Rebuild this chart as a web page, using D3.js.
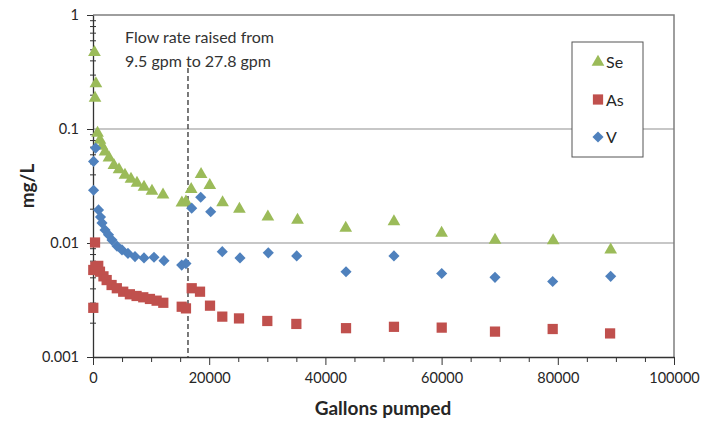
<!DOCTYPE html>
<html>
<head>
<meta charset="utf-8">
<script src="https://cdn.jsdelivr.net/npm/d3@7/dist/d3.min.js"></script>
<style>
  html, body { margin: 0; padding: 0; background: #fff; }
  svg text { font-family: "Lato", "Noto Sans", sans-serif; fill: #262626; }
</style>
</head>
<body>
<svg id="chart" width="703" height="423"></svg>
<script>
// Se / As / V concentrations (mg/L) vs gallons pumped
const seGallons = [250, 500, 350, 780, 1200, 1550, 2070, 2750, 3600, 4480, 5500, 6540, 7570, 8780, 10150, 12050,
  15300, 16000, 16900, 18600, 20100, 22300, 25200, 30100, 35200, 43500, 51800, 60000, 69200, 79200, 89100];
const seValues = [0.47, 0.25, 0.187, 0.092, 0.080, 0.071, 0.063, 0.056, 0.048, 0.044, 0.0395, 0.0364, 0.0336, 0.031, 0.0286, 0.0264,
  0.0225, 0.023, 0.0296, 0.040, 0.032, 0.0226, 0.0198, 0.017, 0.0159, 0.0135, 0.0154, 0.0122, 0.0106, 0.0105, 0.0087];

const asGallons = [50, 350, 50, 400, 900, 1200, 1800, 2350, 3200, 4100, 5200, 6350, 7500, 8650, 9800, 10950, 12100,
  15270, 16000, 16990, 18420, 20140, 22250, 25130, 30000, 35000, 43550, 51800, 60020, 69190, 79120, 89000];
const asValues = [0.0027, 0.0101, 0.0058, 0.0062, 0.0063, 0.0056, 0.0051, 0.00473, 0.00428, 0.00401, 0.00374, 0.00355, 0.00343, 0.00334, 0.00323, 0.00312, 0.00299,
  0.00276, 0.00267, 0.00401, 0.00374, 0.00282, 0.00226, 0.00218, 0.00207, 0.00195, 0.00179, 0.00184, 0.00181, 0.00167, 0.00176, 0.00161];

const vGallons = [100, 100, 450, 950, 1290, 1550, 2070, 2670, 3270, 4130, 4990, 6020, 7230, 8780, 10500, 12220,
  15270, 16000, 16990, 18540, 20260, 22250, 25300, 30170, 35060, 43550, 51800, 60020, 69190, 79120, 89100];
const vValues = [0.029, 0.052, 0.068, 0.0195, 0.0169, 0.015, 0.013, 0.0118, 0.0106, 0.0094, 0.0087, 0.0081, 0.0076, 0.0074, 0.0075, 0.0070,
  0.0064, 0.0066, 0.0202, 0.0252, 0.0188, 0.0084, 0.0074, 0.0082, 0.0077, 0.0056, 0.0077, 0.0054, 0.0050, 0.0046, 0.0051];

const xTicks = [0, 20000, 40000, 60000, 80000, 100000];
const yTicks = [0.001, 0.01, 0.1, 1];
const yTickLabels = ["0.001", "0.01", "0.1", "1"];
const flowChangeGallons = 16350;
const noteLines = ["Flow rate raised from", "9.5 gpm to 27.8 gpm"];

const SERIES = [
  { name: "Se", xs: seGallons, ys: seValues, color: "#9BBB59", shape: "tri" },
  { name: "As", xs: asGallons, ys: asValues, color: "#C0504D", shape: "sq" },
  { name: "V",  xs: vGallons,  ys: vValues,  color: "#4F81BD", shape: "dia" }
];

function markerPath(shape){
  if (shape === "tri") return d3.symbol(d3.symbolTriangle, 70)();
  if (shape === "sq") return d3.symbol(d3.symbolSquare, 105)();
  return d3.symbol(d3.symbolSquare, 62)();
}

function renderChart(){
  const svg = d3.select("#chart");
  const margin = { top: 15, right: 29, bottom: 66, left: 93 };
  const W = 703, H = 423;

  const x = d3.scaleLinear()
    .domain([0, 100000])
    .range([margin.left, W - margin.right]);

  const y = d3.scaleLog()
    .domain([0.001, 1])
    .range([H - margin.bottom, margin.top]);

  // gridlines
  svg.append("g")
    .selectAll("line")
    .data([0.01, 0.1])
    .enter().append("line")
    .attr("x1", x(0)).attr("x2", x(100000))
    .attr("y1", d => y(d)).attr("y2", d => y(d))
    .attr("stroke", "#b4b4b4")
    .attr("stroke-width", 1.5);

  // plot border (top / right)
  svg.append("path")
    .attr("d", `M${x(0)},${y(1)}H${x(100000)}V${y(0.001)}`)
    .attr("fill", "none")
    .attr("stroke", "#7f7f7f")
    .attr("stroke-width", 1.5);

  // flow change marker
  svg.append("line")
    .attr("x1", x(flowChangeGallons)).attr("x2", x(flowChangeGallons))
    .attr("y1", 68).attr("y2", y(0.001))
    .attr("stroke", "#222")
    .attr("stroke-width", 1.2)
    .attr("stroke-dasharray", "5,3");

  svg.append("g")
    .selectAll("text")
    .data(noteLines)
    .enter().append("text")
    .attr("x", 125)
    .attr("y", (d, i) => 42.5 + i * 24)
    .attr("font-size", 16)
    .style("fill", "#333")
    .text(d => d);

  // x axis
  const xMinor = d3.range(0, 100001, 5000).filter(v => !xTicks.includes(v));
  svg.append("g")
    .attr("transform", `translate(0,${y(0.001)})`)
    .call(d3.axisBottom(x).tickValues(xMinor).tickSize(5).tickFormat(""))
    .call(g => g.select(".domain").remove())
    .selectAll("line").attr("stroke", "#333");

  const gx = svg.append("g")
    .attr("transform", `translate(0,${y(0.001)})`)
    .call(d3.axisBottom(x).tickValues(xTicks).tickSize(8).tickSizeOuter(0).tickFormat(d => String(d)).tickPadding(8));
  gx.select(".domain").attr("stroke", "#333").attr("stroke-width", 1.3);
  gx.selectAll("line").attr("stroke", "#333");
  gx.selectAll("text").attr("font-size", 14.5).attr("font-family", null);

  // y axis
  const yMinor = y.ticks().filter(v => !yTicks.some(t => Math.abs(t - v) < 1e-9));
  svg.append("g")
    .attr("transform", `translate(${x(0) + 3},0)`)
    .call(d3.axisLeft(y).tickValues(yMinor).tickSize(6).tickFormat(""))
    .call(g => g.select(".domain").remove())
    .selectAll("line").attr("stroke", "#333");

  const gy = svg.append("g")
    .attr("transform", `translate(${x(0)},0)`)
    .call(d3.axisLeft(y).tickValues(yTicks).tickSize(6).tickSizeOuter(0)
      .tickFormat((d, i) => yTickLabels[i]).tickPadding(8));
  gy.select(".domain").attr("stroke", "#333").attr("stroke-width", 1.3);
  gy.selectAll("line").attr("stroke", "#333");
  gy.selectAll("text").attr("font-size", 14.5).attr("font-family", null);

  // points
  SERIES.forEach(s => {
    svg.append("g")
      .selectAll("path")
      .data(s.xs.map((gal, i) => ({ gal, val: s.ys[i] })))
      .enter().append("path")
      .attr("d", markerPath(s.shape))
      .attr("transform", d => `translate(${x(d.gal)},${y(d.val)})` + (s.shape === "dia" ? " rotate(45)" : ""))
      .attr("fill", s.color);
  });

  // legend
  const lg = svg.append("g").attr("transform", "translate(572,42)");
  lg.append("rect")
    .attr("width", 71).attr("height", 115)
    .attr("fill", "#fff")
    .attr("stroke", "#555")
    .attr("stroke-width", 1);
  SERIES.forEach((s, i) => {
    const cy = 20 + i * 37.5;
    lg.append("path")
      .attr("d", markerPath(s.shape))
      .attr("transform", `translate(26,${cy})` + (s.shape === "dia" ? " rotate(45)" : ""))
      .attr("fill", s.color);
    lg.append("text")
      .attr("x", 34).attr("y", cy + 6)
      .attr("font-size", 16)
      .text(s.name);
  });

  // axis titles
  svg.append("text")
    .attr("x", 383).attr("y", 415)
    .attr("text-anchor", "middle")
    .attr("font-size", 19)
    .attr("font-weight", "bold")
    .text("Gallons pumped");

  svg.append("text")
    .attr("transform", "translate(34,186) rotate(-90)")
    .attr("text-anchor", "middle")
    .attr("font-size", 19)
    .attr("font-weight", "bold")
    .text("mg/L");
}

renderChart();
</script>
</body>
</html>
